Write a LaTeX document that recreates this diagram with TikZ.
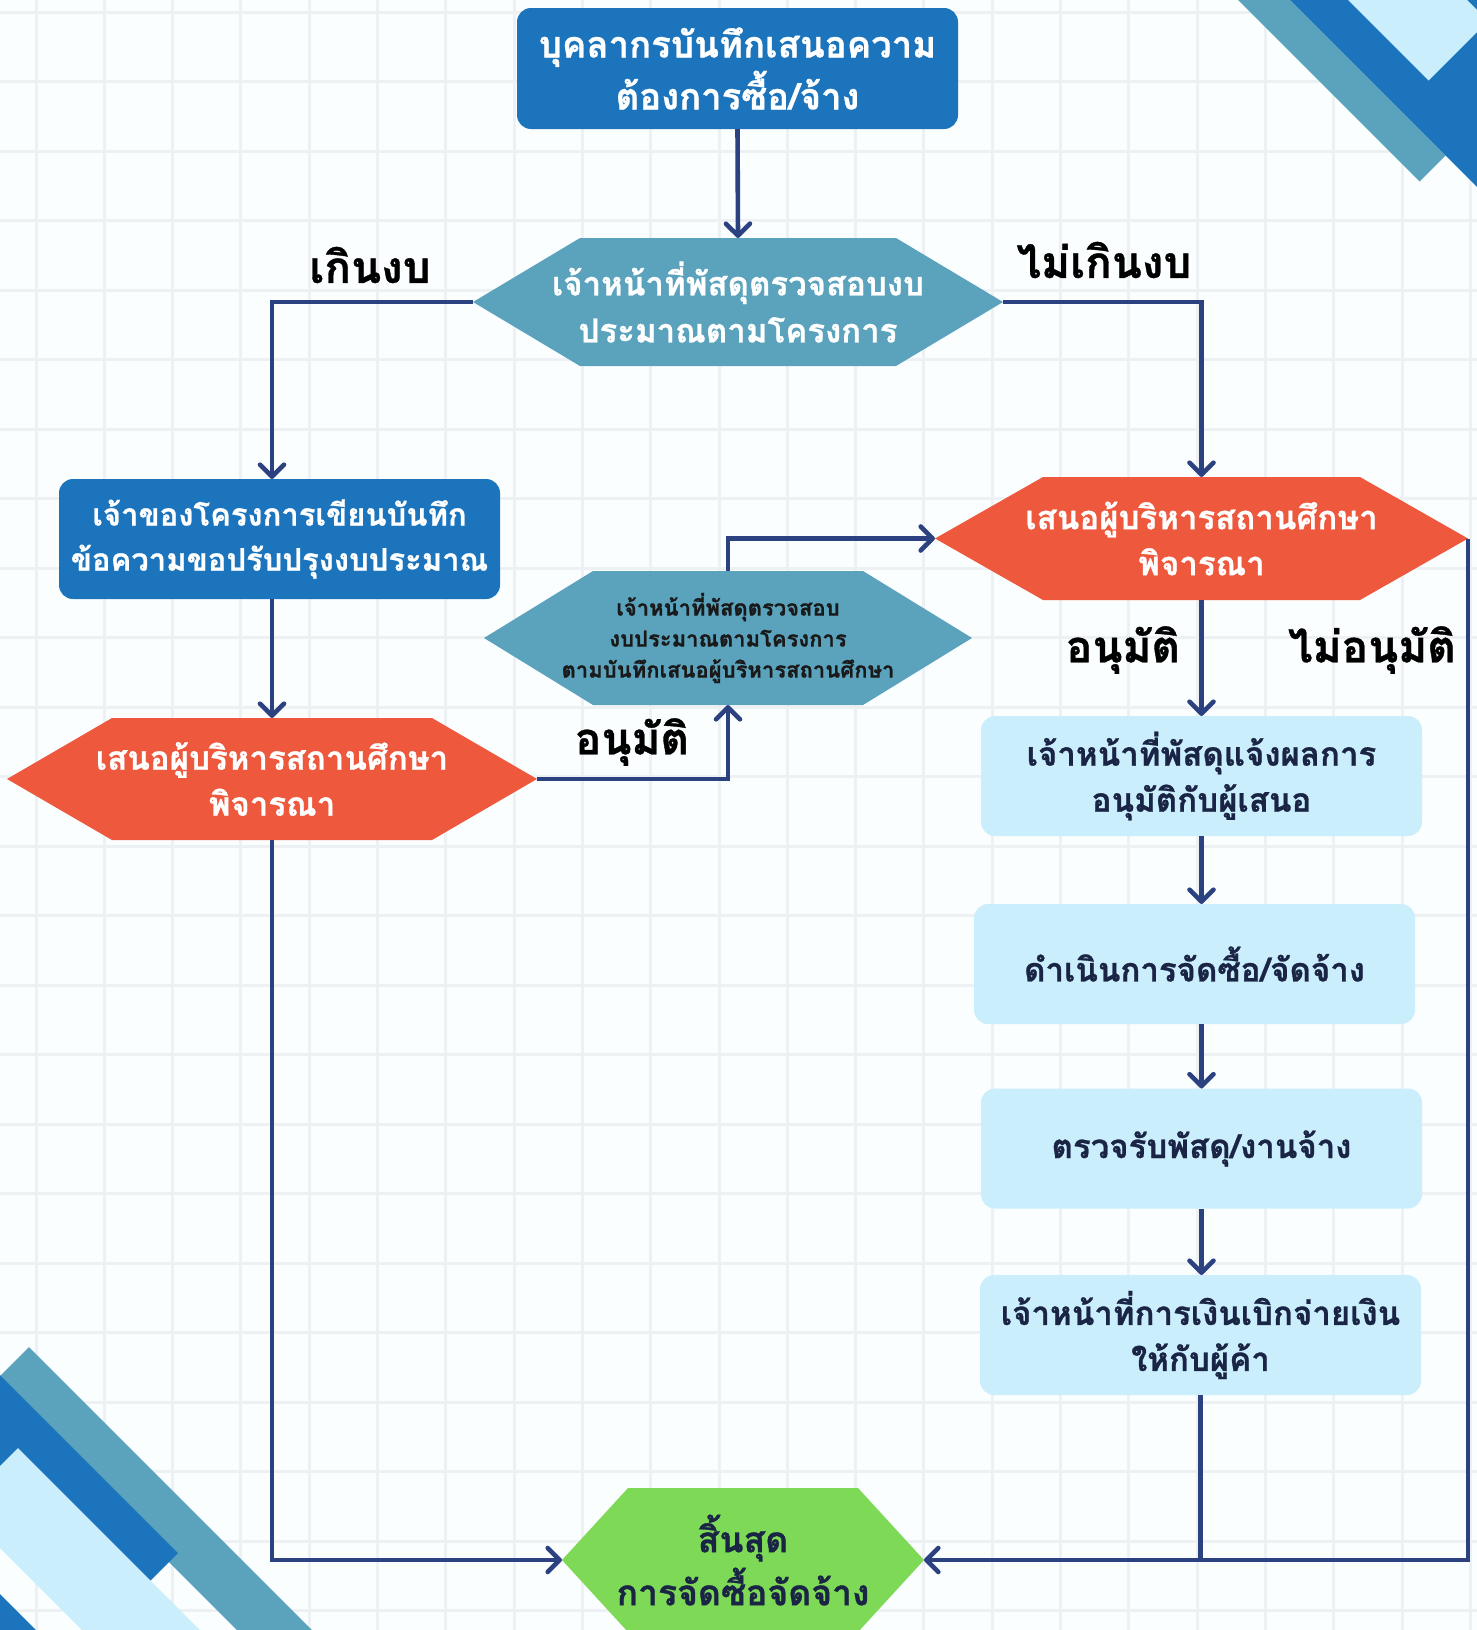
\documentclass[tikz,border=0pt]{standalone}
\usepackage{fontspec}
\newfontfamily\thaifont[Script=Thai, BoldFeatures={FakeBold=0.8}]{Loma}
\usetikzlibrary{arrows.meta}
\definecolor{bgc}{HTML}{FBFEFF}
\definecolor{gridc}{HTML}{EDF1F4}
\definecolor{dblue}{HTML}{1C75BC}
\definecolor{tealc}{HTML}{5BA3BD}
\definecolor{orng}{HTML}{EE583C}
\definecolor{lblue}{HTML}{CBEEFD}
\definecolor{grn}{HTML}{7ED957}
\definecolor{navy}{HTML}{2B4180}
\definecolor{dtext}{HTML}{1A2444}
\newcommand\hexshape[6]{%
  \fill[#1] ({#2-#4},#3) -- ({#2-#4+#6},{#3-#5}) -- ({#2+#4-#6},{#3-#5}) --
  ({#2+#4},#3) -- ({#2+#4-#6},{#3+#5}) -- ({#2-#4+#6},{#3+#5}) -- cycle;}
\begin{document}
\begin{tikzpicture}[x=1pt,y=-1pt,
  every node/.style={inner sep=0pt, outer sep=0pt},
  txt/.style 2 args={font={\thaifont\bfseries\fontsize{#1}{#2}\selectfont}, align=center},
  rbox/.style={rectangle, rounded corners=14pt, minimum width=441pt, minimum height=120pt},
  hbox/.style 2 args={rectangle, minimum width=#1pt, minimum height=#2pt},
  conn/.style={draw=navy, line width=4.6pt},
  arr/.style={conn, -{Straight Barb[length=12pt,width=24pt,round]}},
  lab/.style={font={\thaifont\bfseries\fontsize{44}{50}\selectfont}, text=black},
]
\useasboundingbox (0,0) rectangle (1477,1630);
\begin{scope}
\clip (0,0) rectangle (1477,1630);
\fill[bgc] (0,0) rectangle (1477,1630);
\foreach \i in {0,...,21} \draw[gridc, line width=3pt] ({36+68.3*\i},0) -- ++(0,1630);
\foreach \j in {0,...,23} \draw[gridc, line width=3pt] (0,{12+69.5*\j}) -- ++(1477,0);
% top-right decoration
\fill[tealc] (1238,0) -- (1290,0) -- (1445.5,155.5) -- (1419.5,181.5) -- cycle;
\fill[dblue] (1290,0) -- (1477,0) -- (1477,187) -- cycle;
\fill[lblue] (1348,0) -- (1467,0) -- (1488,21) -- (1428.5,80.5) -- cycle;
% bottom-left decoration
\fill[tealc] (29,1347) -- (-8.5,1384.5) -- (237,1630) -- (312,1630) -- cycle;
\fill[dblue] (-10,1365) -- (178,1553) -- (115.5,1615.5) -- (-10,1490) -- cycle;
\fill[lblue] (18,1448) -- (200,1630) -- (82,1630) -- (-41,1507) -- cycle;
\fill[dblue] (-10,1584) -- (46,1640) -- (-10,1640) -- cycle;
\end{scope}

% hexagon shapes
\hexshape{tealc}{738}{302}{265}{64}{107}
\hexshape{orng}{272}{779}{265}{61}{105}
\hexshape{tealc}{728}{638}{244}{67}{109}
\hexshape{orng}{1201.5}{538.5}{266.5}{61.5}{108}
\hexshape{grn}{743}{1560}{181}{72}{66}

% nodes
\node[rbox, fill=dblue, minimum height=121pt, text=white, txt={36.5}{52}] (top) at (737.5,68.5)
  {บุคลากรบันทึกเสนอความ\\ต้องการซื้อ/จ้าง};
\node[hbox={530}{128}, text=white, txt={33}{47}] (hexA) at (738,302)
  {เจ้าหน้าที่พัสดุตรวจสอบงบ\\ประมาณตามโครงการ};
\node[rbox, fill=dblue, text=white, txt={31}{45}] (own) at (279.5,539)
  {เจ้าของโครงการเขียนบันทึก\\ข้อความขอปรับปรุงงบประมาณ};
\node[hbox={530}{122}, text=white, txt={33}{46}] (hexL) at (272,779)
  {เสนอผู้บริหารสถานศึกษา\\พิจารณา};
\node[hbox={488}{134}, text=black!90, txt={22}{31}] (hexB) at (728,638)
  {เจ้าหน้าที่พัสดุตรวจสอบ\\งบประมาณตามโครงการ\\ตามบันทึกเสนอผู้บริหารสถานศึกษา};
\node[hbox={533}{123}, text=white, txt={33}{46}] (hexR) at (1201.5,538.5)
  {เสนอผู้บริหารสถานศึกษา\\พิจารณา};
\node[rbox, fill=lblue, text=dtext, txt={33}{46}] (r1) at (1201.5,776)
  {เจ้าหน้าที่พัสดุแจ้งผลการ\\อนุมัติกับผู้เสนอ};
\node[rbox, fill=lblue, text=dtext, txt={33}{46}] (r2) at (1194.5,964)
  {ดำเนินการจัดซื้อ/จัดจ้าง};
\node[rbox, fill=lblue, text=dtext, txt={33}{46}] (r3) at (1201.5,1148.5)
  {ตรวจรับพัสดุ/งานจ้าง};
\node[rbox, fill=lblue, text=dtext, txt={33}{46}] (r4) at (1200.5,1335)
  {เจ้าหน้าที่การเงินเบิกจ่ายเงิน\\ให้กับผู้ค้า};
\node[hbox={362}{144}, text=dtext, txt={35.5}{53}] (fin) at (743,1560)
  {สิ้นสุด\\การจัดซื้อจัดจ้าง};

% labels
\node[lab] (lover) at (370,265) {เกินงบ};
\node[lab] (lunder) at (1104,260) {ไม่เกินงบ};
\node[lab] (lok1) at (632,742) {อนุมัติ};
\node[lab] (lok2) at (1123,650) {อนุมัติ};
\node[lab] (lno) at (1372,650) {ไม่อนุมัติ};

% connectors
\draw[arr] (top.south) -- (hexA.north);
\draw[arr] (hexA.west) -| (own.north -| hexL.center);
\draw[arr] (hexA.east) -| (hexR.north);
\draw[arr] (own.south -| hexL.center) -- (hexL.north);
\draw[arr] (hexL.east) -| (hexB.south);
\draw[arr] (hexB.north) |- (hexR.west);
\draw[arr] (hexR.south) -- (r1.north);
\draw[arr] (r1.south) -- (r1.south |- r2.north);
\draw[arr] (r1.south |- r2.south) -- (r1.south |- r3.north);
\draw[arr] (r3.south) -- (r3.south |- r4.north);
\draw[conn] (r4.south) -- (r4.south |- fin.east);
\draw[arr] (hexR.east) |- (fin.east);
\draw[arr] (hexL.south) |- (fin.west);
\end{tikzpicture}
\end{document}
